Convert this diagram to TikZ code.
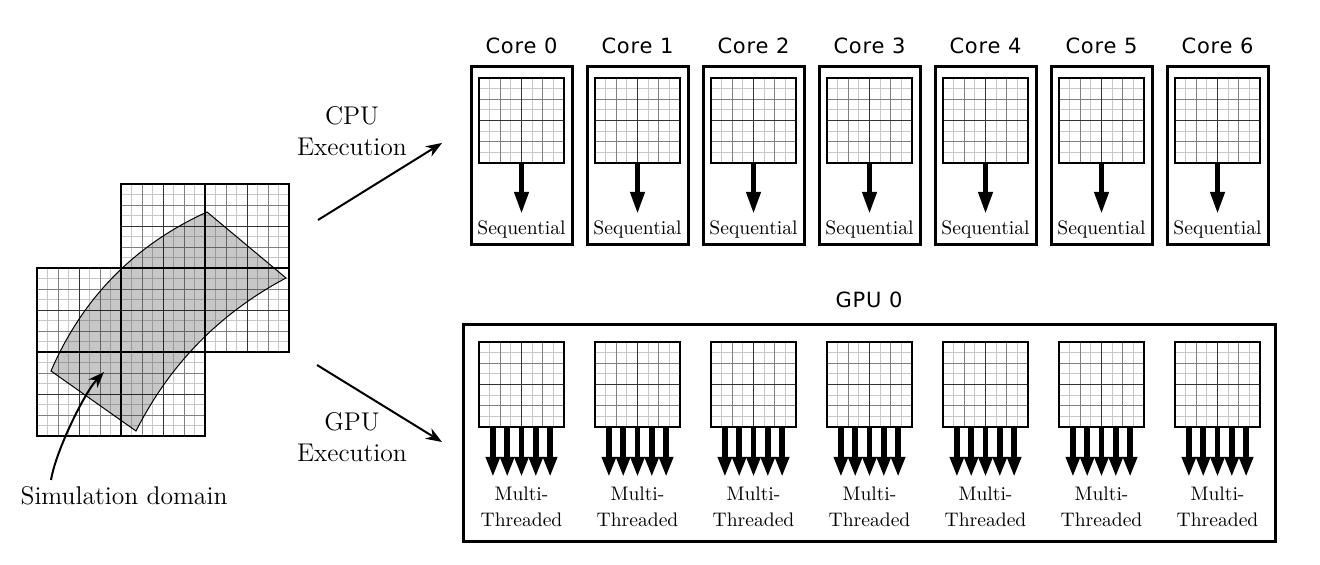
\documentclass[tikz,border=0pt]{standalone}
\usepackage{fontspec}
\newfontfamily\titlefont[LetterSpace=4]{DejaVu Sans}
\usetikzlibrary{arrows.meta}
\tikzset{
  gl1/.style={draw=black!22, line width=0.4pt},
  gl2/.style={draw=black!50, line width=0.4pt},
  gl3/.style={draw=black!80, line width=0.45pt},
  gridframe/.style={draw=black, line width=0.6pt, minimum width=42.5pt, minimum height=42.5pt, inner sep=0pt, outer sep=0pt},
  corebox/.style={draw=black, line width=1.5pt, minimum width=50.5pt, minimum height=89pt, inner sep=0pt},
  gpubox/.style={draw=black, line width=1.5pt, minimum width=406pt, minimum height=108pt, inner sep=0pt},
  titletxt/.style={font=\titlefont\fontsize{10.5}{12}\selectfont, inner sep=0pt},
  smalltxt/.style={font=\fontsize{9.8}{13}\selectfont, align=center, inner sep=0pt},
  bigtxt/.style={font=\fontsize{12.8}{15.5}\selectfont, align=center, inner sep=0pt},
  seqarrow/.style={line width=2.5pt, -{Triangle[length=11pt,width=6.8pt]}},
  mtarrow/.style={line width=2.8pt, -{Triangle[length=10pt,width=6.6pt]}},
  flowarrow/.style={line width=1pt, -{Stealth[length=8pt,width=6pt,inset=2.5pt]}},
  domainshape/.style={draw=black, line width=0.5pt, fill=black, fill opacity=0.22},
  subframe/.style={draw=black, line width=0.6pt},
}
\newcommand\mygridlines[3]{%
  \begin{scope}[shift={(#1,#2)}]
    \foreach \k in {1,3,5,7}{\draw[gl1] ({#3*\k/8},0) -- ({#3*\k/8},#3) (0,{#3*\k/8}) -- (#3,{#3*\k/8});}
    \foreach \k in {2,6}{\draw[gl2] ({#3*\k/8},0) -- ({#3*\k/8},#3) (0,{#3*\k/8}) -- (#3,{#3*\k/8});}
    \draw[gl3] ({#3/2},0) -- ({#3/2},#3) (0,{#3/2}) -- (#3,{#3/2});
  \end{scope}}
\begin{document}
\begin{tikzpicture}[x=0.5pt, y=-0.5pt]
\useasboundingbox (0,0) rectangle (1320,565);

% ---------- simulation domain ----------
\foreach \a/\b in {37/268, 121/268, 37/352, 121/352, 121/184, 205/184, 205/268}{
  \mygridlines{\a}{\b}{84}
  \draw[subframe] (\a,\b) rectangle ++(84,84);
}
\draw[domainshape] (51,371) .. controls (82.5,298) and (134.5,245) .. (207,212)
  -- (286,278) .. controls (219.9,313.1) and (169.9,364.1) .. (136,431) -- cycle;

\node[bigtxt] (simlbl) at (124,496) {Simulation domain};
\coordinate (simstart) at (51,480);
\coordinate (dompt) at (104,372);
\draw[flowarrow] (simstart) .. controls (56,450) and (85,392) .. (dompt);

% ---------- execution arrows ----------
\node[bigtxt] (cpulbl) at (352,131) {CPU\\Execution};
\node[bigtxt] (gpulbl) at (352,437) {GPU\\Execution};
\coordinate (cpuA) at (318,220);
\coordinate (cpuB) at (442,143);
\coordinate (gpuA) at (317,365);
\coordinate (gpuB) at (442,442);
\draw[flowarrow] (cpuA) -- (cpuB);
\draw[flowarrow] (gpuA) -- (gpuB);

% ---------- CPU cores ----------
\foreach \i in {0,...,6}{
  \node[corebox] (core\i) at (521.5+116*\i,156) {};
  \node[titletxt] (coret\i) at (521.5+116*\i,45.5) {Core \i};
  \mygridlines{479+116*\i}{78}{85}
  \node[gridframe] (cg\i) at (521.5+116*\i,120.5) {};
  \draw[seqarrow] (cg\i.south) -- ++(0,51);
  \node[smalltxt] (seq\i) at (521.5+116*\i,229) {Sequential};
}

% ---------- GPU ----------
\node[gpubox] (gpu) at (869,433) {};
\node[titletxt] (gputitle) at (869,300) {GPU 0};
\foreach \j in {0,...,6}{
  \mygridlines{479+116*\j}{342}{85}
  \node[gridframe] (gg\j) at (521.5+116*\j,384.5) {};
  \foreach \d in {-28.6,-14.3,0,14.3,28.6}{
    \draw[mtarrow] ([xshift=\d*0.5pt]gg\j.south) -- ++(0,50);
  }
  \node[smalltxt] (mt\j) at (521.5+116*\j,507) {Multi-\\Threaded};
}
\end{tikzpicture}
\end{document}
